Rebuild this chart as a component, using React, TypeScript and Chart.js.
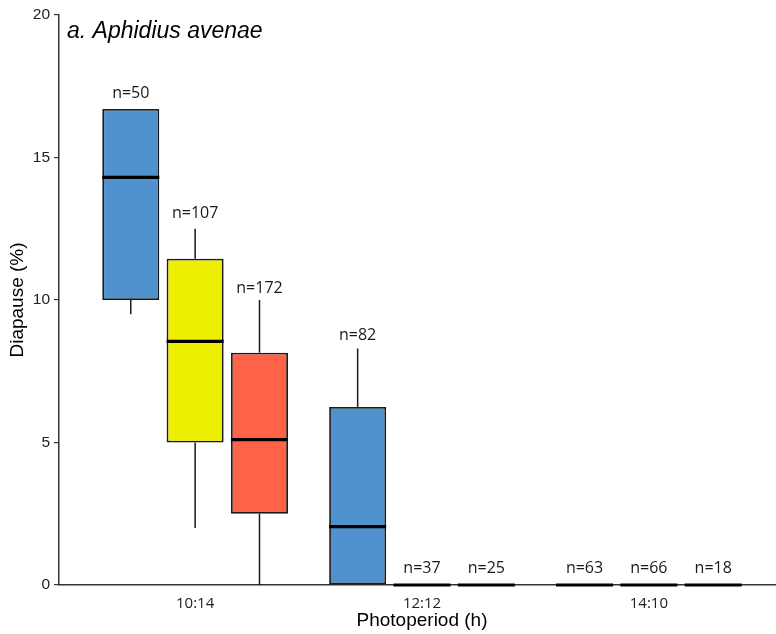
import React, { useEffect, useRef } from 'react';
import { Chart, registerables } from 'chart.js';

Chart.register(...registerables);

// ---- data ----
const categories = ['10:14', '12:12', '14:10'];
const categoryPositions = [1, 2, 3];
const seriesNames = ['Series 1', 'Series 2', 'Series 3'];
const seriesColors = ['#4F92CE', '#EEEE00', '#FF6347'];

const series1Min = [9.5, 0, 0];
const series1Q1 = [10, 0, 0];
const series1Median = [14.3, 2.05, 0];
const series1Q3 = [16.7, 6.25, 0];
const series1Max = [16.7, 8.3, 0];
const series1N = [50, 82, 63];
const series1LabelY = [17.25, 8.77, 0.59];

const series2Min = [2.0, 0, 0];
const series2Q1 = [5.0, 0, 0];
const series2Median = [8.55, 0, 0];
const series2Q3 = [11.45, 0, 0];
const series2Max = [12.5, 0, 0];
const series2N = [107, 37, 66];
const series2LabelY = [13.05, 0.59, 0.59];

const series3Min = [0, 0, 0];
const series3Q1 = [2.5, 0, 0];
const series3Median = [5.1, 0, 0];
const series3Q3 = [8.15, 0, 0];
const series3Max = [10, 0, 0];
const series3N = [172, 25, 18];
const series3LabelY = [10.42, 0.59, 0.59];

const yTicks = [0, 5, 10, 15, 20];

const stats = [
  { min: series1Min, q1: series1Q1, med: series1Median, q3: series1Q3, max: series1Max, n: series1N, ly: series1LabelY },
  { min: series2Min, q1: series2Q1, med: series2Median, q3: series2Q3, max: series2Max, n: series2N, ly: series2LabelY },
  { min: series3Min, q1: series3Q1, med: series3Median, q3: series3Q3, max: series3Max, n: series3N, ly: series3LabelY },
];

const boxPlugin = {
  id: 'boxExtras',
  beforeDatasetsDraw(chart: any) {
    const ctx = chart.ctx;
    const ys = chart.scales.y;
    ctx.save();
    ctx.strokeStyle = '#1a1a1a';
    ctx.lineWidth = 1.5;
    stats.forEach((s, d) => {
      const meta = chart.getDatasetMeta(d);
      meta.data.forEach((bar: any, i: number) => {
        const x = bar.x;
        ctx.beginPath();
        ctx.moveTo(x, ys.getPixelForValue(s.q3[i]));
        ctx.lineTo(x, ys.getPixelForValue(s.max[i]));
        ctx.moveTo(x, ys.getPixelForValue(s.q1[i]));
        ctx.lineTo(x, ys.getPixelForValue(s.min[i]));
        ctx.stroke();
      });
    });
    ctx.restore();
  },
  afterDatasetsDraw(chart: any) {
    const ctx = chart.ctx;
    const ys = chart.scales.y;
    ctx.save();
    stats.forEach((s, d) => {
      const meta = chart.getDatasetMeta(d);
      meta.data.forEach((bar: any, i: number) => {
        const x = bar.x;
        const w = bar.width;
        const ym = ys.getPixelForValue(s.med[i]);
        ctx.strokeStyle = '#000';
        ctx.lineWidth = 3.2;
        ctx.beginPath();
        ctx.moveTo(x - w / 2, ym);
        ctx.lineTo(x + w / 2, ym);
        ctx.stroke();
        ctx.fillStyle = '#1a1a1a';
        ctx.font = '16px "Open Sans"';
        ctx.textAlign = 'center';
        ctx.textBaseline = 'middle';
        ctx.fillText('n=' + s.n[i], x, ys.getPixelForValue(s.ly[i]));
      });
    });
    // panel title
    const area = chart.chartArea;
    ctx.fillStyle = '#000';
    ctx.font = 'italic 23px "Liberation Sans"';
    ctx.textAlign = 'left';
    ctx.textBaseline = 'alphabetic';
    ctx.fillText('a. Aphidius avenae', area.left + 8, area.top + 23);
    ctx.restore();
  },
};

export default function App() {
  const ref = useRef<HTMLCanvasElement | null>(null);

  useEffect(() => {
    if (!ref.current) return;
    const datasets = stats.map((s, d) => ({
      label: seriesNames[d],
      data: categoryPositions.map((x, i) => ({ x, y: [s.q1[i], s.q3[i]] })),
      backgroundColor: seriesColors[d],
      borderColor: '#1a1a1a',
      borderWidth: 1.8,
      borderSkipped: false,
      categoryPercentage: 0.851,
      barPercentage: 0.886,
    }));
    const chart = new Chart(ref.current, {
      type: 'bar',
      data: { datasets } as any,
      plugins: [boxPlugin],
      options: {
        animation: false,
        responsive: true,
        maintainAspectRatio: false,
        layout: { padding: { top: 15, right: 1, left: 0, bottom: 0 } },
        plugins: { legend: { display: false }, tooltip: { enabled: false } },
        scales: {
          x: {
            type: 'linear',
            min: 0.4,
            max: 3.6,
            offset: false,
            afterBuildTicks: (scale: any) => {
              scale.ticks = categoryPositions.map((v) => ({ value: v }));
            },
            afterFit: (scale: any) => {
              scale.height = 49;
            },
            ticks: {
              callback: (v: any) => {
                const idx = categoryPositions.indexOf(Number(v));
                return idx >= 0 ? categories[idx] : '';
              },
              font: { family: '"Open Sans"', size: 15 },
              color: '#222',
              padding: 10,
              maxRotation: 0,
              autoSkip: false,
            },
            grid: { display: true, drawOnChartArea: false, drawTicks: false, offset: false },
            border: { display: true, color: '#333', width: 1.5 },
            title: {
              display: true,
              text: 'Photoperiod (h)',
              font: { family: '"Liberation Sans"', size: 19 },
              color: '#000',
              padding: { top: 0, bottom: 1.6 },
            },
          },
          y: {
            type: 'linear',
            min: 0,
            max: 20,
            afterBuildTicks: (scale: any) => {
              scale.ticks = yTicks.map((v) => ({ value: v }));
            },
            afterFit: (scale: any) => {
              scale.width = 59;
            },
            ticks: {
              font: { family: '"Liberation Sans"', size: 15.5 },
              color: '#222',
              padding: 4,
            },
            grid: { drawOnChartArea: false, drawTicks: true, tickLength: 5, color: '#333', lineWidth: 1.2 },
            border: { display: true, color: '#333', width: 1.5 },
            title: {
              display: true,
              text: 'Diapause (%)',
              font: { family: '"Liberation Sans"', size: 19 },
              color: '#000',
              padding: { top: 6.6, bottom: 0 },
            },
          },
        },
      } as any,
    });
    return () => chart.destroy();
  }, []);

  return (
    <div style={{ position: 'fixed', left: 0, top: 0, width: 776, height: 634, overflow: 'hidden', background: '#fff' }}>
      <div style={{ position: 'relative', width: 786, height: 634 }}>
        <canvas ref={ref} />
      </div>
    </div>
  );
}
